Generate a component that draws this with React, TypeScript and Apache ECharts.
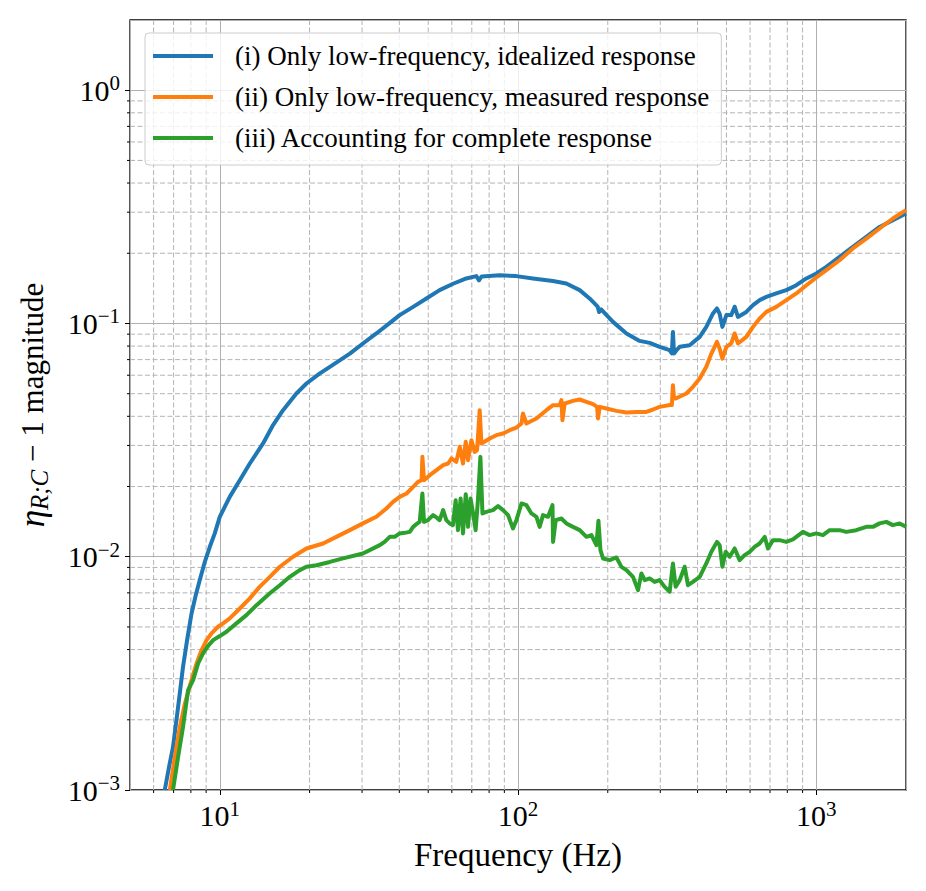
import React, { useEffect, useRef } from "react";
import * as echarts from "echarts";

const FONT = "Liberation Serif";

const seriesNames = [
  "(i) Only low-frequency, idealized response",
  "(ii) Only low-frequency, measured response",
  "(iii) Accounting for complete response",
];
const seriesColors = ["#1f77b4", "#ff7f0e", "#2ca02c"];

const idealFreq = [
  6.54, 6.76, 6.97, 7.25, 7.53, 7.77, 8.04, 8.31, 8.57, 8.91, 9.26, 9.62, 10, 10.8, 11.67, 12.61, 13.97, 15.09,
  16.3, 18.07, 19.53, 21.6, 23.4, 27.3, 30.2, 33.5, 37.2, 40.1, 44.5, 49.3, 54.6, 60.6, 67.1, 72.5, 74, 75.5,
  86.9, 98.8, 112.2, 131, 145.2, 161, 173.8, 185, 187, 190, 208.2, 231, 255.8, 276.4, 298.5, 322.5, 328, 330.8,
  333.5, 340, 348.5, 376.4, 406.7, 428, 450.6, 464.7, 474.5, 484.5, 499.7, 518.8, 532.7, 546.4, 583, 613.8, 646,
  680.3, 734.6, 793.6, 857.6, 926.8, 1000.7, 1081, 1197.6, 1327, 1472, 1631, 1807, 2000,
];
const idealVals = [
  0.001, 0.001257, 0.00153, 0.002274, 0.003375, 0.00439, 0.00571, 0.00685, 0.00794, 0.00951, 0.01103, 0.01259,
  0.01483, 0.01806, 0.02129, 0.0251, 0.0306, 0.0367, 0.0425, 0.0501, 0.0553, 0.061, 0.0652, 0.0743, 0.0821,
  0.0906, 0.1006, 0.1086, 0.1178, 0.128, 0.139, 0.148, 0.156, 0.1596, 0.153, 0.159, 0.161, 0.1596, 0.156, 0.152,
  0.1484, 0.139, 0.128, 0.118, 0.112, 0.115, 0.1016, 0.0906, 0.0842, 0.0826, 0.0794, 0.0768, 0.0745, 0.092,
  0.0743, 0.0768, 0.0794, 0.0807, 0.0876, 0.0967, 0.1104, 0.116, 0.11, 0.0967, 0.1086, 0.1086, 0.118, 0.1067,
  0.1121, 0.1198, 0.1259, 0.13, 0.1345, 0.139, 0.1459, 0.156, 0.1638, 0.175, 0.193, 0.2129, 0.235, 0.2594,
  0.2772, 0.296,
];

const measuredFreq = [
  6.8, 7.07, 7.35, 7.64, 8.04, 8.36, 8.69, 9.03, 9.38, 9.87, 10.26, 10.8, 11.67, 12.61, 13.6, 14.72, 15.9, 17.61,
  19.53, 22.2, 24.6, 27.3, 30.2, 33.5, 36.2, 38.1, 40.1, 42.3, 44.5, 46.2, 47.5, 47.8, 48.4, 50.6, 53.3, 56.1,
  58.3, 59.8, 62.1, 63.8, 65.4, 66.8, 68, 69.8, 71.6, 72.9, 74.4, 75.4, 80.4, 84.6, 89.1, 93.8, 98.8, 102.7,
  103.9, 106.7, 115.3, 124.5, 131.1, 138, 139.8, 140.9, 143.4, 152.9, 161.1, 169.6, 178.5, 184.1, 185.5, 187.9,
  197.9, 213.8, 231, 249.4, 269.5, 283.7, 298.5, 322.5, 328, 330.8, 333.5, 337.8, 366.8, 386.1, 406.7, 428,
  445.1, 464.7, 474.5, 484.5, 499.7, 518.8, 532.7, 546.4, 583, 613.8, 646, 680.3, 734.6, 793.6, 857.6, 926.8,
  1000.7, 1081, 1197.6, 1327, 1472, 1631, 1807, 2000,
];
const measuredVals = [
  0.001, 0.001388, 0.001866, 0.00235, 0.00296, 0.00349, 0.00398, 0.00439, 0.00469, 0.00501, 0.00518, 0.00544,
  0.006, 0.00663, 0.00743, 0.0082, 0.00906, 0.01, 0.01085, 0.0114, 0.01217, 0.013, 0.0139, 0.01483, 0.0161,
  0.01719, 0.01806, 0.01867, 0.01993, 0.02094, 0.02129, 0.0268, 0.02129, 0.02237, 0.0235, 0.0247, 0.0251,
  0.02638, 0.0255, 0.0296, 0.0251, 0.0311, 0.02594, 0.0316, 0.02816, 0.02864, 0.0425, 0.0306, 0.03214, 0.0332,
  0.03377, 0.03488, 0.0358, 0.03726, 0.04113, 0.03726, 0.03916, 0.0425, 0.04466, 0.04466, 0.0469, 0.03849,
  0.04539, 0.04659, 0.04722, 0.04613, 0.04509, 0.04391, 0.03916, 0.04391, 0.04322, 0.04221, 0.04155, 0.04178,
  0.04178, 0.04278, 0.04391, 0.0447, 0.0447, 0.0544, 0.0477, 0.0477, 0.0501, 0.0535, 0.0581, 0.0652, 0.0743,
  0.0834, 0.078, 0.0707, 0.0794, 0.0821, 0.0906, 0.0821, 0.0876, 0.0967, 0.105, 0.1121, 0.1178, 0.1259, 0.1345,
  0.1459, 0.1575, 0.1693, 0.1867, 0.2097, 0.2313, 0.2554, 0.2818, 0.306,
];

const completeFreq = [
  6.97, 7.25, 7.53, 7.83, 8.14, 8.46, 8.79, 9.14, 9.5, 10, 10.53, 11.37, 12.28, 13.28, 14.72, 15.9, 17.17, 18.54,
  19.53, 21.1, 23.4, 25.9, 30.2, 34.4, 35.7, 37.15, 38.6, 40.1, 41.7, 43.35, 44.5, 45.6, 46.8, 47.8, 48.4, 49.9,
  51.9, 53.3, 54.6, 56.1, 57.5, 59, 60.5, 61.8, 62.9, 64.2, 65.4, 66.8, 68, 69.3, 70.7, 72.1, 73.4, 74.8, 76,
  78.3, 82.4, 85.7, 89.1, 92.6, 96.2, 98.8, 102.7, 106.7, 110.9, 115.3, 118.2, 121.3, 126.1, 130.5, 131.1, 133.8,
  139.8, 145.3, 152.9, 161.1, 169.6, 176.3, 183.2, 186.1, 189, 192.8, 203, 213.8, 222.3, 231, 243, 252.6, 259.3,
  266, 276.4, 287.2, 298.5, 310.3, 322.5, 330.8, 337.8, 348.5, 362.1, 371.4, 385.9, 406.7, 428, 445.1, 464.7,
  474.5, 484.5, 497.1, 512.6, 532.7, 553.6, 575.4, 598, 621.5, 646, 671.9, 688.9, 716, 754.1, 793.6, 835.5,
  902.6, 950.4, 1000.7, 1053, 1109, 1197.6, 1261, 1362, 1472, 1549, 1631, 1718, 1807, 1904, 2000,
];
const completeVals = [
  0.001, 0.001388, 0.001866, 0.00268, 0.00296, 0.00349, 0.00385, 0.00415, 0.00439, 0.00457, 0.00477, 0.00518,
  0.00562, 0.0062, 0.00697, 0.00755, 0.0082, 0.00876, 0.00906, 0.0092, 0.0095, 0.00984, 0.01033, 0.01121,
  0.01158, 0.01217, 0.01217, 0.01259, 0.01266, 0.01278, 0.01343, 0.01379, 0.01411, 0.01867, 0.01411, 0.01435,
  0.01508, 0.01474, 0.01435, 0.01584, 0.01435, 0.01389, 0.01366, 0.01748, 0.013, 0.01778, 0.01259, 0.01854,
  0.01343, 0.01778, 0.01533, 0.013, 0.01748, 0.0268, 0.01533, 0.01557, 0.01584, 0.01648, 0.01584, 0.01508,
  0.01322, 0.01435, 0.01692, 0.01664, 0.01533, 0.01483, 0.01343, 0.01508, 0.01483, 0.01664, 0.01158, 0.01435,
  0.01459, 0.01389, 0.01343, 0.013, 0.01217, 0.01238, 0.01121, 0.01426, 0.01067, 0.00983, 0.00967, 0.00993,
  0.00905, 0.00876, 0.0082, 0.00719, 0.00848, 0.00794, 0.00807, 0.0078, 0.00794, 0.00743, 0.00708, 0.00936,
  0.00743, 0.00794, 0.00906, 0.00755, 0.0078, 0.0082, 0.00936, 0.0105, 0.01158, 0.01121, 0.00906, 0.0105, 0.01,
  0.01085, 0.00967, 0.01016, 0.0105, 0.01103, 0.0114, 0.01217, 0.01085, 0.01178, 0.01178, 0.01158, 0.01186,
  0.01278, 0.01238, 0.01259, 0.01238, 0.013, 0.013, 0.01278, 0.013, 0.01343, 0.01343, 0.0139, 0.01411, 0.01366,
  0.0139, 0.01343,
];

const xRange = [5, 2000];
const yRange = [0.001, 2];
const xTickExps = [1, 2, 3];
const yTickExps = [-3, -2, -1, 0];
const xMinor = [6, 7, 8, 9, 20, 30, 40, 50, 60, 70, 80, 90, 200, 300, 400, 500, 600, 700, 800, 900];
const yMinor = [
  0.002, 0.003, 0.004, 0.005, 0.006, 0.007, 0.008, 0.009, 0.02, 0.03, 0.04, 0.05, 0.06, 0.07, 0.08, 0.09, 0.2,
  0.3, 0.4, 0.5, 0.6, 0.7, 0.8, 0.9,
];

function pair(f: number[], v: number[]) {
  return f.map((x, i) => [x, v[i]]);
}

function powLabel(exps: number[]) {
  return (value: number) => {
    const e = Math.round(Math.log10(value));
    if (!exps.includes(e)) return "";
    if (Math.abs(value - Math.pow(10, e)) / Math.pow(10, e) > 1e-6) return "";
    const s = e < 0 ? "\u2212" + -e : String(e);
    return "10{sup|" + s + "}";
  };
}

export default function App() {
  const ref = useRef<HTMLDivElement>(null);
  useEffect(() => {
    if (!ref.current) return;
    const chart = echarts.init(ref.current, null, { renderer: "svg" });
    const supStyle = { fontSize: 21, fontFamily: FONT, color: "#000", padding: [0, 0, 14, 0] };
    const datasets = [pair(idealFreq, idealVals), pair(measuredFreq, measuredVals), pair(completeFreq, completeVals)];
    chart.setOption({
      animation: false,
      textStyle: { fontFamily: FONT },
      grid: {
        left: 130,
        right: 20,
        top: 20,
        bottom: 101,
        show: true,
        borderColor: "#000",
        borderWidth: 1.3,
        backgroundColor: "transparent",
      },
      legend: {
        left: 145,
        top: 33,
        orient: "vertical",
        icon: "rect",
        itemWidth: 60,
        itemHeight: 4,
        itemGap: 11,
        padding: [8, 12, 12, 8],
        backgroundColor: "rgba(255,255,255,0.8)",
        borderColor: "#cccccc",
        borderWidth: 1,
        borderRadius: 4,
        textStyle: { fontFamily: FONT, fontSize: 27, color: "#000", lineHeight: 30, padding: [0, 0, 0, 17] },
        data: seriesNames,
      },
      xAxis: {
        type: "log",
        logBase: 10,
        min: xRange[0],
        max: xRange[1],
        name: "Frequency (Hz)",
        nameLocation: "middle",
        nameGap: 48,
        nameTextStyle: { fontFamily: FONT, fontSize: 33, color: "#000" },
        axisLine: { show: false },
        axisTick: { show: true, length: 5, lineStyle: { color: "#000", width: 1 } },
        axisLabel: {
          formatter: powLabel(xTickExps),
          fontFamily: FONT,
          fontSize: 30,
          color: "#000",
          margin: 8,
          showMinLabel: false,
          showMaxLabel: false,
          rich: { sup: supStyle },
        },
        splitLine: { show: true, lineStyle: { color: "#b0b0b0", width: 1 } },
      },
      yAxis: {
        type: "log",
        logBase: 10,
        min: yRange[0],
        max: yRange[1],
        name: "{eta|\u03b7}{sub|R;C}{n| \u2212 1 magnitude}",
        nameLocation: "middle",
        nameRotate: 90,
        nameGap: 78,
        nameTextStyle: {
          fontFamily: FONT,
          fontSize: 30,
          color: "#000",
          rich: {
            eta: { fontFamily: FONT, fontSize: 35, fontStyle: "italic", color: "#000" },
            sub: { fontFamily: FONT, fontSize: 25, fontStyle: "italic", color: "#000", padding: [14, 0, 0, 0] },
            n: { fontFamily: FONT, fontSize: 31, color: "#000" },
          },
        },
        axisLine: { show: false },
        axisTick: { show: true, length: 5, lineStyle: { color: "#000", width: 1 } },
        axisLabel: {
          formatter: powLabel(yTickExps),
          fontFamily: FONT,
          fontSize: 30,
          color: "#000",
          margin: 10,
          showMinLabel: true,
          showMaxLabel: false,
          rich: { sup: supStyle },
        },
        splitLine: { show: true, lineStyle: { color: "#b0b0b0", width: 1 } },
      },
      series: seriesNames.map((name, i) => ({
        name,
        type: "line",
        data: datasets[i],
        showSymbol: false,
        symbol: "none",
        lineStyle: { color: seriesColors[i], width: 4, join: "round" },
        itemStyle: { color: seriesColors[i] },
        z: 3 + i,
        clip: true,
      })),
    });

    const conv = (axis: "x" | "y", v: number) =>
      chart.convertToPixel(axis === "x" ? { xAxisIndex: 0 } : { yAxisIndex: 0 }, v) as unknown as number;
    const x0 = conv("x", xRange[0]);
    const x1 = conv("x", xRange[1]);
    const y0 = conv("y", yRange[0]);
    const y1 = conv("y", yRange[1]);
    const gridStyle = { stroke: "#b3b3b3", lineWidth: 1, lineDash: [5, 2.5] };
    const tickStyle = { stroke: "#000", lineWidth: 1 };
    const g: any[] = [];
    xMinor.forEach((v) => {
      const px = conv("x", v);
      g.push({ type: "line", silent: true, z: 0, shape: { x1: px, y1: y1, x2: px, y2: y0 }, style: gridStyle });
      g.push({ type: "line", silent: true, z: 0, shape: { x1: px, y1: y0, x2: px, y2: y0 + 3 }, style: tickStyle });
    });
    yMinor.forEach((v) => {
      const py = conv("y", v);
      g.push({ type: "line", silent: true, z: 0, shape: { x1: x0, y1: py, x2: x1, y2: py }, style: gridStyle });
      g.push({ type: "line", silent: true, z: 0, shape: { x1: x0 - 3, y1: py, x2: x0, y2: py }, style: tickStyle });
    });
    chart.setOption({ graphic: g });

    return () => chart.dispose();
  }, []);
  return <div ref={ref} style={{ position: "absolute", left: 0, top: 0, width: 926, height: 891 }} />;
}
